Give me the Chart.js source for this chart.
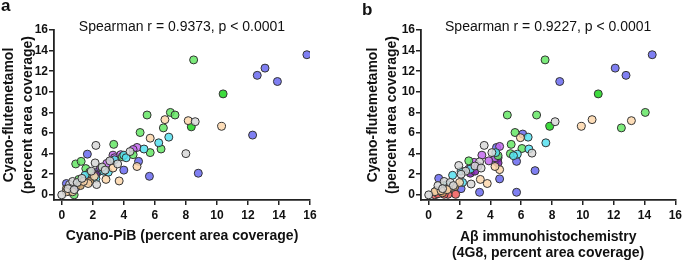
<!DOCTYPE html>
<html>
<head>
<meta charset="utf-8">
<script src="https://cdn.jsdelivr.net/npm/chart.js@4.4.1/dist/chart.umd.min.js"></script>
<style>
  body { margin: 0; background: #fff; width: 685px; height: 261px; overflow: hidden; position: relative; }
  #wrapA { position: absolute; left: 0; top: 0; width: 345px; height: 261px; }
  #wrapB { position: absolute; left: 345px; top: 0; width: 340px; height: 261px; }
</style>
</head>
<body>
<div id="wrapA"><canvas id="chartA" width="345" height="261"></canvas></div>
<div id="wrapB"><canvas id="chartB" width="340" height="261"></canvas></div>
<script>
// tick values shared by both panels
var tickValues = [0, 2, 4, 6, 8, 10, 12, 14, 16];

// panel a: Cyano-PiB (x) vs Cyano-flutemetamol (y), [x, y]
var greyA = [[8.6,7.1],[8.0,4.0],[2.2,4.8],[2.15,3.1],[2.25,1.0],[4.4,4.2],[0.0,0.0],[0.5,1.0],[0.7,1.3],[1.0,1.2],[0.4,0.6],[1.3,1.6],[2.6,2.7],[3.1,3.3],[3.6,3.0],[2.8,2.4],[0.8,0.5],[1.9,2.3]];
var peachA = [[6.65,7.3],[8.15,7.2],[10.3,6.65],[5.7,5.5],[4.85,2.75],[3.7,1.35],[2.85,1.5],[0.5,0.5],[0.3,0.3],[1.7,1.1],[2.1,1.8],[3.3,2.6],[0.7,0.3],[1.4,1.3]];
var tanA = [[0.5,0.3],[1.8,1.3],[1.2,0.9],[0.3,0.6]];
var cyanA = [[6.9,5.6],[6.25,5.05],[5.3,4.45],[4.0,3.85],[3.0,2.2],[1.5,1.9],[4.15,3.6],[2.2,1.6],[3.4,3.4],[1.0,1.1],[2.7,2.3]];
var greenA = [[8.5,13.1],[7.0,8.0],[7.3,7.75],[5.5,7.75],[6.55,6.5],[5.05,6.05],[3.35,4.9],[6.4,4.45],[5.7,4.1],[0.9,3.0],[1.25,3.25],[1.55,2.55],[0.8,0.0],[1.8,2.2],[4.6,3.9],[2.6,2.6],[1.1,1.5],[3.9,3.7]];
var brightGreenA = [[10.4,9.8],[8.35,6.6]];
var purpleA = [[4.85,4.6],[3.3,3.85],[2.9,3.05],[3.4,3.6],[4.6,4.4],[2.5,2.6],[3.8,3.9]];
var darkPurpleA = [[2.05,2.05],[2.2,1.9],[1.6,1.4]];
var blueA = [[15.8,13.6],[13.1,12.3],[12.6,11.6],[13.9,11.0],[12.3,5.8],[8.8,2.1],[5.65,1.8],[4.95,3.25],[4.0,2.4],[1.65,3.95],[0.3,1.1],[2.3,2.2],[0.9,0.7],[3.2,3.3]];

// panel b: A-beta IHC (x) vs Cyano-flutemetamol (y), [x, y]
var greyB = [[8.2,7.1],[6.7,4.05],[3.6,4.8],[1.95,2.85],[2.75,1.05],[0.0,0.0],[3.3,3.2],[0.6,0.9],[1.0,1.3],[1.4,1.2],[2.4,2.3],[4.1,4.1],[3.0,2.8],[0.9,0.6],[1.6,0.9],[3.4,2.6],[2.1,2.0]];
var peachB = [[13.15,7.2],[10.6,7.3],[9.9,6.65],[5.95,5.55],[3.35,1.5],[3.8,1.1],[4.6,2.45],[4.3,2.75],[0.4,0.3],[1.2,0.5],[2.0,1.2],[0.8,0.4]];
var tanB = [[0.5,0.4],[1.7,0.8],[1.3,0.6],[0.9,0.2]];
var redB = [[1.75,0.05],[1.25,0.05],[0.4,0.0],[0.6,0.1],[1.0,0.05]];
var cyanB = [[7.6,5.05],[6.45,5.6],[6.5,4.45],[5.75,3.95],[1.55,1.9],[2.1,2.3],[4.35,4.1],[5.5,3.8],[2.2,1.2],[2.7,2.5],[1.2,1.0]];
var greenB = [[7.55,13.1],[14.05,8.0],[12.5,6.5],[7.0,7.75],[5.1,7.75],[5.6,6.05],[5.35,4.9],[6.05,4.5],[5.3,4.0],[2.6,3.3],[4.5,3.8],[1.0,0.9]];
var brightGreenB = [[11.0,9.8],[7.85,6.65]];
var purpleB = [[3.45,3.85],[4.6,4.7],[2.95,3.15],[4.3,3.6],[3.9,3.3],[2.6,2.5],[3.2,2.8]];
var darkPurpleB = [[2.7,2.1],[4.5,3.1],[3.0,2.3]];
var blueB = [[14.5,13.6],[12.1,12.3],[12.8,11.6],[8.5,11.0],[6.9,2.35],[5.7,3.25],[5.7,0.25],[3.3,0.25],[4.6,1.55],[0.65,1.6],[4.4,4.6],[6.1,5.9],[2.1,0.6],[4.3,3.3],[4.5,3.6]];

var FONT = '"Liberation Sans", Arial, sans-serif';

function pts(arr) {
  return arr.map(function (p) { return { x: p[0], y: p[1] }; });
}

function ds(arr, fill) {
  return {
    data: pts(arr),
    backgroundColor: fill,
    borderColor: '#333',
    borderWidth: 1,
    pointRadius: 4
  };
}

var textPlugin = {
  id: 'panelText',
  afterDraw: function (chart, args, o) {
    var c = chart.ctx, a = chart.chartArea;
    c.save();
    c.fillStyle = '#111';
    c.font = '14px ' + FONT;
    c.textAlign = 'center';
    c.textBaseline = 'alphabetic';
    c.fillText(o.stats, (a.left + a.right) / 2, 31);
    c.font = 'bold 17px ' + FONT;
    c.textAlign = 'left';
    c.fillText(o.letter, o.letterX, o.letterY);
    c.restore();
  }
};

function axisTicks(scale) {
  scale.ticks = tickValues.map(function (v) { return { value: v }; });
}

function makeChart(id, cfg) {
  var ctx = document.getElementById(id).getContext('2d');
  return new Chart(ctx, {
    type: 'scatter',
    data: {
      datasets: [
        ds(cfg.grey, 'rgba(215,215,215,0.85)'),
        ds(cfg.peach, 'rgba(253,215,172,0.85)'),
        ds(cfg.tan, 'rgba(205,160,100,0.85)'),
        ds(cfg.red, 'rgba(240,90,90,0.85)'),
        ds(cfg.cyan, 'rgba(85,225,240,0.85)'),
        ds(cfg.green, 'rgba(100,230,100,0.85)'),
        ds(cfg.brightGreen, 'rgba(40,215,40,0.9)'),
        ds(cfg.purple, 'rgba(195,105,240,0.85)'),
        ds(cfg.darkPurple, 'rgba(125,30,175,0.85)'),
        ds(cfg.blue, 'rgba(105,105,240,0.85)')
      ]
    },
    options: {
      responsive: false,
      animation: false,
      layout: { padding: { left: cfg.padLeft, top: 30, right: cfg.padRight, bottom: 0 } },
      plugins: {
        legend: { display: false },
        tooltip: { enabled: false },
        panelText: { stats: cfg.stats, letter: cfg.letter, letterX: cfg.letterX, letterY: cfg.letterY }
      },
      scales: {
        x: {
          type: 'linear',
          min: -0.5,
          max: 16,
          afterBuildTicks: axisTicks,
          afterFit: function (s) { s.height = 61; },
          grid: { drawOnChartArea: false, drawTicks: true, tickLength: 5, color: '#222', lineWidth: 1.5 },
          border: { display: true, color: '#222', width: 1.8 },
          ticks: { color: '#111', padding: 3, maxRotation: 0, font: { family: FONT, size: 12, weight: 'bold' } },
          title: {
            display: true,
            text: cfg.xTitle,
            color: '#111',
            padding: { top: 0, bottom: cfg.xTitlePad },
            font: { family: FONT, size: 14, weight: 'bold', lineHeight: 1.15 }
          }
        },
        y: {
          type: 'linear',
          min: -0.5,
          max: 16,
          afterBuildTicks: axisTicks,
          afterFit: function (s) { s.width = cfg.yWidth; },
          grid: { drawOnChartArea: false, drawTicks: true, tickLength: 5, color: '#222', lineWidth: 1.5 },
          border: { display: true, color: '#222', width: 1.8 },
          ticks: { color: '#111', padding: 1, font: { family: FONT, size: 12, weight: 'bold' } },
          title: {
            display: true,
            text: ['Cyano-flutemetamol', '(percent area coverage)'],
            color: '#111',
            padding: { top: 0, bottom: 0 },
            font: { family: FONT, size: 14, weight: 'bold', lineHeight: 1.32 }
          }
        }
      }
    },
    plugins: [textPlugin]
  });
}

makeChart('chartA', {
  grey: greyA, peach: peachA, tan: tanA, red: [], cyan: cyanA, green: greenA,
  brightGreen: brightGreenA, purple: purpleA, darkPurple: darkPurpleA, blue: blueA,
  padLeft: 0, yWidth: 54, padRight: 35,
  xTitle: 'Cyano-PiB (percent area coverage)', xTitlePad: 17,
  stats: 'Spearman r = 0.9373, p < 0.0001',
  letter: 'a', letterX: 1, letterY: 11
});

makeChart('chartB', {
  grey: greyB, peach: peachB, tan: tanB, red: redB, cyan: cyanB, green: greenB,
  brightGreen: brightGreenB, purple: purpleB, darkPurple: darkPurpleB, blue: blueB,
  padLeft: 19, yWidth: 57, padRight: 8,
  xTitle: ['A\u03b2 immunohistochemistry', '(4G8, percent area coverage)'], xTitlePad: 0,
  stats: 'Spearman r = 0.9227, p < 0.0001',
  letter: 'b', letterX: 17, letterY: 15
});
</script>
</body>
</html>
